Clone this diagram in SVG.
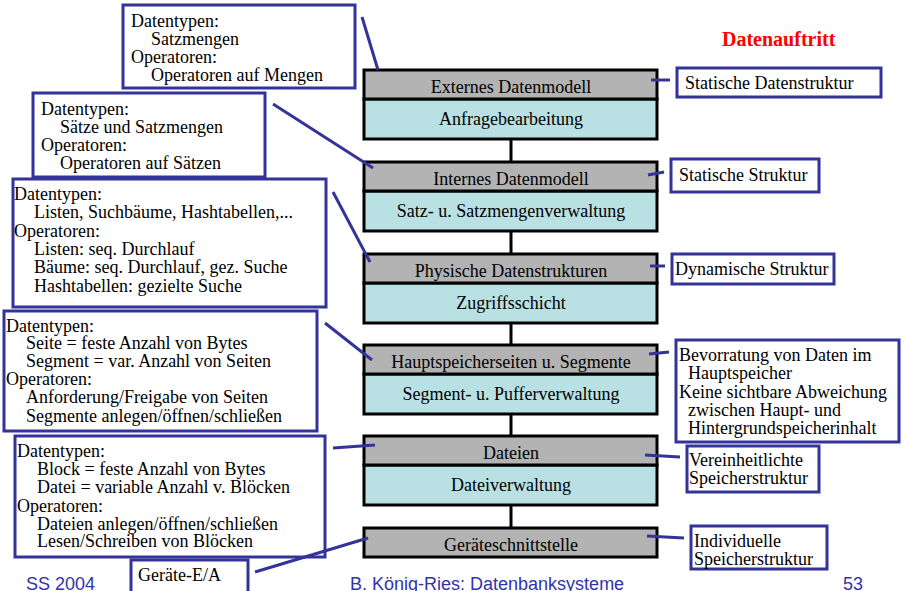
<svg xmlns="http://www.w3.org/2000/svg" width="905" height="591" viewBox="0 0 905 591">
  <style>
    .t { font-family: "Liberation Serif", "Times New Roman", serif; font-size: 18px; fill: #000; }
    .c { text-anchor: middle; }
    .note { fill: #fff; stroke: #333399; stroke-width: 3; }
    .head { fill: #b3b3b3; stroke: #000; stroke-width: 3; }
    .body { fill: #b9e0e3; stroke: #000; stroke-width: 3; }
    .link { stroke: #333399; stroke-width: 3; fill: none; }
    .stem { stroke: #000; stroke-width: 3; }
    .foot { font-family: "Liberation Sans", Arial, sans-serif; font-size: 18px; fill: #3333aa; }
    .title { font-family: "Liberation Serif", "Times New Roman", serif; font-size: 20px; font-weight: bold; fill: #ff0000; }
  </style>
  <rect width="905" height="591" fill="#fff"/>

  <text class="title" x="722" y="46">Datenauftritt</text>

  <!-- vertical stems between the layers -->
  <g id="stems">
    <line class="stem" x1="511" y1="139" x2="511" y2="162"/>
    <line class="stem" x1="511" y1="231" x2="511" y2="254"/>
    <line class="stem" x1="511" y1="323" x2="511" y2="345"/>
    <line class="stem" x1="511" y1="414" x2="511" y2="436"/>
    <line class="stem" x1="511" y1="505" x2="511" y2="528"/>
  </g>

  <!-- layer stack -->
  <g id="layer-extern">
    <rect class="body" x="364" y="99" width="293" height="40"/>
    <rect class="head" x="364" y="70" width="293" height="29"/>
    <text class="t c" x="511" y="93">Externes Datenmodell</text>
    <text class="t c" x="511" y="125">Anfragebearbeitung</text>
  </g>
  <g id="layer-intern">
    <rect class="body" x="364" y="191" width="293" height="40"/>
    <rect class="head" x="364" y="162" width="293" height="29"/>
    <text class="t c" x="511" y="185">Internes Datenmodell</text>
    <text class="t c" x="511" y="217">Satz- u. Satzmengenverwaltung</text>
  </g>
  <g id="layer-physisch">
    <rect class="body" x="364" y="283" width="293" height="40"/>
    <rect class="head" x="364" y="254" width="293" height="29"/>
    <text class="t c" x="511" y="277">Physische Datenstrukturen</text>
    <text class="t c" x="511" y="309">Zugriffsschicht</text>
  </g>
  <g id="layer-hauptspeicher">
    <rect class="body" x="364" y="374" width="293" height="40"/>
    <rect class="head" x="364" y="345" width="293" height="29"/>
    <text class="t c" x="511" y="368">Hauptspeicherseiten u. Segmente</text>
    <text class="t c" x="511" y="400">Segment- u. Pufferverwaltung</text>
  </g>
  <g id="layer-dateien">
    <rect class="body" x="364" y="465" width="293" height="40"/>
    <rect class="head" x="364" y="436" width="293" height="29"/>
    <text class="t c" x="511" y="459">Dateien</text>
    <text class="t c" x="511" y="491">Dateiverwaltung</text>
  </g>
  <g id="layer-geraete">
    <rect class="head" x="364" y="528" width="293" height="29"/>
    <text class="t c" x="511" y="551">Geräteschnittstelle</text>
  </g>

  <!-- left notes: data types and operators -->
  <g id="note-extern">
    <rect class="note" x="123" y="5" width="232" height="83"/>
    <text class="t" x="131" y="27">Datentypen:</text>
    <text class="t" x="151" y="45">Satzmengen</text>
    <text class="t" x="131" y="63">Operatoren:</text>
    <text class="t" x="151" y="81">Operatoren auf Mengen</text>
  </g>
  <g id="note-intern">
    <rect class="note" x="33" y="93" width="232" height="84"/>
    <text class="t" x="41" y="115">Datentypen:</text>
    <text class="t" x="60" y="133">Sätze und Satzmengen</text>
    <text class="t" x="41" y="151">Operatoren:</text>
    <text class="t" x="60" y="169">Operatoren auf Sätzen</text>
  </g>
  <g id="note-physisch">
    <rect class="note" x="13" y="179" width="313" height="128"/>
    <text class="t" x="14" y="200">Datentypen:</text>
    <text class="t" x="34" y="218">Listen, Suchbäume, Hashtabellen,...</text>
    <text class="t" x="14" y="237">Operatoren:</text>
    <text class="t" x="34" y="255">Listen: seq. Durchlauf</text>
    <text class="t" x="34" y="273">Bäume: seq. Durchlauf, gez. Suche</text>
    <text class="t" x="34" y="292">Hashtabellen: gezielte Suche</text>
  </g>
  <g id="note-hauptspeicher">
    <rect class="note" x="4" y="311" width="313" height="120"/>
    <text class="t" x="6" y="332">Datentypen:</text>
    <text class="t" x="26" y="349">Seite = feste Anzahl von Bytes</text>
    <text class="t" x="26" y="367">Segment = var. Anzahl von Seiten</text>
    <text class="t" x="6" y="385">Operatoren:</text>
    <text class="t" x="26" y="403">Anforderung/Freigabe von Seiten</text>
    <text class="t" x="26" y="422">Segmente anlegen/öffnen/schließen</text>
  </g>
  <g id="note-dateien">
    <rect class="note" x="15" y="436" width="310" height="121"/>
    <text class="t" x="17" y="457">Datentypen:</text>
    <text class="t" x="37" y="475">Block = feste Anzahl von Bytes</text>
    <text class="t" x="37" y="493">Datei = variable Anzahl v. Blöcken</text>
    <text class="t" x="17" y="512">Operatoren:</text>
    <text class="t" x="37" y="530">Dateien anlegen/öffnen/schließen</text>
    <text class="t" x="37" y="547">Lesen/Schreiben von Blöcken</text>
  </g>
  <g id="note-geraete">
    <rect class="note" x="131" y="560" width="117" height="40"/>
    <text class="t" x="138" y="581">Geräte-E/A</text>
  </g>

  <!-- right notes: structure -->
  <g id="struct-extern">
    <rect class="note" x="677" y="68" width="204" height="29"/>
    <text class="t" x="685" y="89">Statische Datenstruktur</text>
  </g>
  <g id="struct-intern">
    <rect class="note" x="671" y="159" width="148" height="33"/>
    <text class="t" x="679" y="181">Statische Struktur</text>
  </g>
  <g id="struct-physisch">
    <rect class="note" x="672" y="254" width="162" height="30"/>
    <text class="t" x="675" y="275">Dynamische Struktur</text>
  </g>
  <g id="struct-hauptspeicher">
    <rect class="note" x="676" y="340" width="223" height="102"/>
    <text class="t" x="679" y="361">Bevorratung von Daten im</text>
    <text class="t" x="688" y="379">Hauptspeicher</text>
    <text class="t" x="679" y="398">Keine sichtbare Abweichung</text>
    <text class="t" x="688" y="416">zwischen Haupt- und</text>
    <text class="t" x="688" y="434">Hintergrundspeicherinhalt</text>
  </g>
  <g id="struct-dateien">
    <rect class="note" x="687" y="446" width="132" height="46"/>
    <text class="t" x="689" y="466">Vereinheitlichte</text>
    <text class="t" x="689" y="484">Speicherstruktur</text>
  </g>
  <g id="struct-geraete">
    <rect class="note" x="691" y="526" width="136" height="43"/>
    <text class="t" x="694" y="547">Individuelle</text>
    <text class="t" x="694" y="565">Speicherstruktur</text>
  </g>

  <!-- connectors from notes to layers -->
  <g id="connectors">
    <line class="link" x1="362" y1="17" x2="378" y2="70"/>
    <line class="link" x1="273" y1="104" x2="373" y2="168"/>
    <line class="link" x1="333" y1="192" x2="370" y2="262"/>
    <line class="link" x1="325" y1="323" x2="372" y2="360"/>
    <line class="link" x1="333" y1="448" x2="375" y2="445"/>
    <line class="link" x1="255" y1="572" x2="368" y2="538"/>
    <line class="link" x1="651" y1="80" x2="670" y2="80"/>
    <line class="link" x1="648" y1="175" x2="664" y2="172"/>
    <line class="link" x1="650" y1="266" x2="665" y2="266"/>
    <line class="link" x1="649" y1="354" x2="669" y2="352"/>
    <line class="link" x1="645" y1="455" x2="680" y2="457"/>
    <line class="link" x1="647" y1="536" x2="684" y2="538"/>
  </g>

  <!-- footer -->
  <text class="foot" x="26" y="590">SS 2004</text>
  <text class="foot" x="350" y="590">B. König-Ries: Datenbanksysteme</text>
  <text class="foot" x="843" y="590">53</text>
</svg>
